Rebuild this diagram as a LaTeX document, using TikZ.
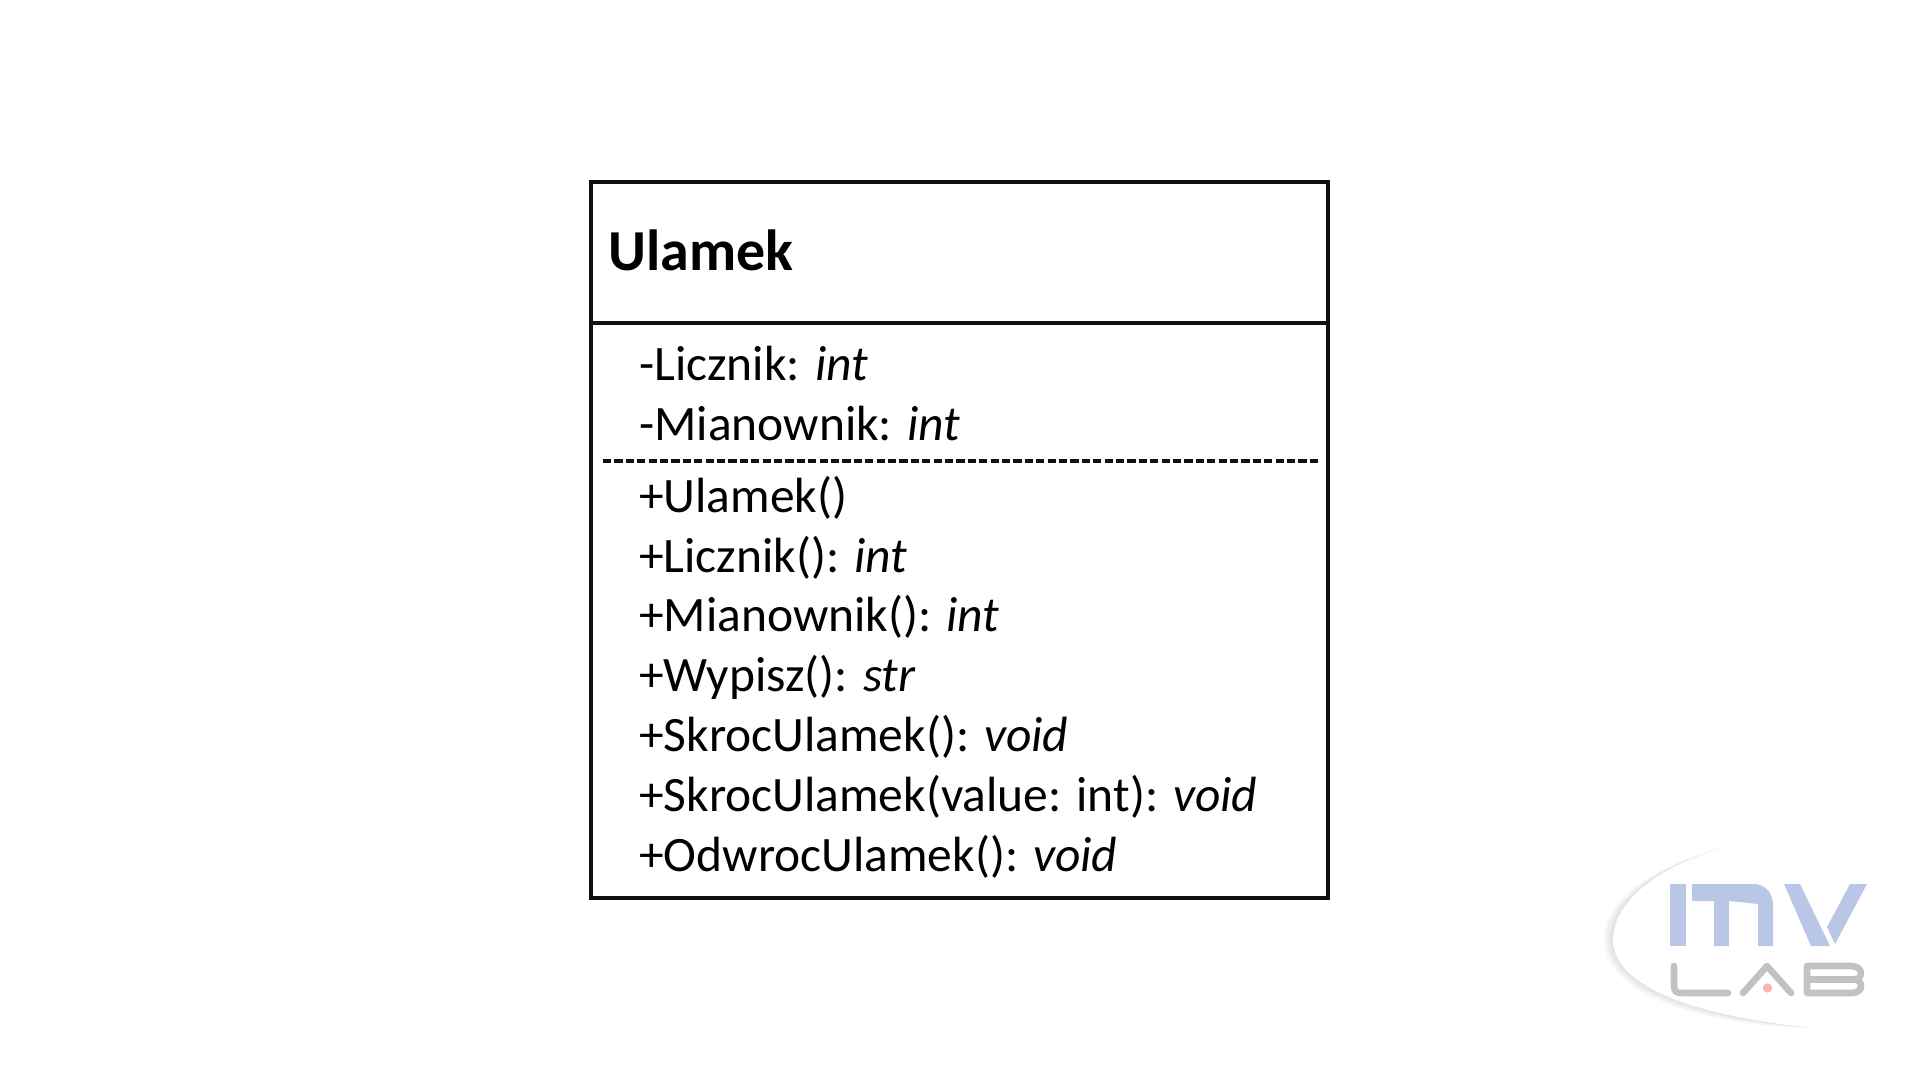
\documentclass[tikz,border=0pt]{standalone}
\usepackage{fontspec}
\setmainfont{Carlito}
\definecolor{logoblue}{HTML}{B9C7E7}
\definecolor{logogray}{HTML}{C2C2C2}
\definecolor{logopink}{HTML}{FFB4B4}
\definecolor{boxline}{HTML}{111111}
\tikzset{
  compartment/.style={draw=boxline,line width=3.1pt,fill=none,rectangle,inner sep=0pt,minimum width=737pt},
  member/.style={anchor=base west,inner sep=0pt,font=\fontsize{49.5}{49.5}\selectfont,text=black},
  classtitle/.style={anchor=base west,inner sep=0pt,font=\fontsize{58}{58}\selectfont\bfseries,text=black},
  sep/.style={draw=boxline,line width=3.2pt,dash pattern=on 8.2pt off 3.2pt},
  logostroke/.style={draw=logogray,line width=6.6pt,line cap=round,line join=round},
  logofill/.style={fill=logoblue,draw=none},
}
\begin{document}
\begin{tikzpicture}[x=1pt,y=-1pt]
\useasboundingbox (0,0) rectangle (1920,1080);
% logo shadow
\foreach \d in {0,1,...,9}{
  \fill[black,opacity=0.011]
    (1723,848) .. controls ({1660-\d},866) and ({1612-\d},{900}) .. ({1612-\d},940)
    .. controls ({1612-\d},{985+0.6*\d}) and (1690,{1016+1.2*\d}) .. (1815,1028)
    .. controls (1690,1016) and (1613,985) .. (1613,940)
    .. controls (1613,900) and (1660,866) .. cycle;
}
% logo letters
\fill[logofill] (1670,884) rectangle (1686,946);
\fill[logofill] (1692,884) -- (1753,884) .. controls (1768,884) and (1773,896) .. (1773,905)
  -- (1773,946) -- (1758,946) -- (1758,904) -- (1729,901) -- (1729,946) -- (1714,946) -- (1714,901) -- (1692,901) -- cycle;
\fill[logofill] (1784,884) -- (1800,884) -- (1830,946) -- (1811,946) -- cycle;
\fill[logofill] (1850,884) -- (1867,884) -- (1835,944) -- (1827,927) -- cycle;
\draw[logostroke] (1674,966) -- (1674,986) .. controls (1674,992) and (1677,993) .. (1682,993) -- (1728,993);
\draw[logostroke] (1743,993) -- (1767,966) -- (1791,993);
\fill[logopink] (1767.5,988) circle (4.7);
\draw[logostroke] (1807,966) -- (1851,966) .. controls (1858,966) and (1861,970) .. (1861,973) .. controls (1861,977) and (1858,979.5) .. (1854,979.5)
  .. controls (1858,979.5) and (1861,982) .. (1861,986) .. controls (1861,990) and (1858,993) .. (1851,993) -- (1807,993) -- cycle;
\draw[logostroke] (1810,979.5) -- (1854,979.5);
% class box
\node[compartment,minimum height=141pt] (titlebox) at (959.5,252.5) {};
\node[compartment,minimum height=575pt] (bodybox) at (959.5,610.5) {};
\node[classtitle] (title) at (608,270) {Ulamek};
\node[member] (m1) at (639,380) {-Licznik: \textit{int}};
\node[member] (m2) at (639,440) {-Mianownik: \textit{int}};
\node[member] (m3) at (639,512) {+Ulamek()};
\node[member] (m4) at (639,572) {+Licznik(): \textit{int}};
\node[member] (m5) at (639,631) {+Mianownik(): \textit{int}};
\node[member] (m6) at (639,691) {+Wypisz(): \textit{str}};
\node[member] (m7) at (639,751) {+SkrocUlamek(): \textit{void}};
\node[member] (m8) at (639,811) {+SkrocUlamek(value: int): \textit{void}};
\node[member] (m9) at (639,871) {+OdwrocUlamek(): \textit{void}};
\coordinate (sepL) at (603,461);
\coordinate (sepR) at (1320,461);
\draw[sep] (sepL) -- (sepR);
\end{tikzpicture}
\end{document}
